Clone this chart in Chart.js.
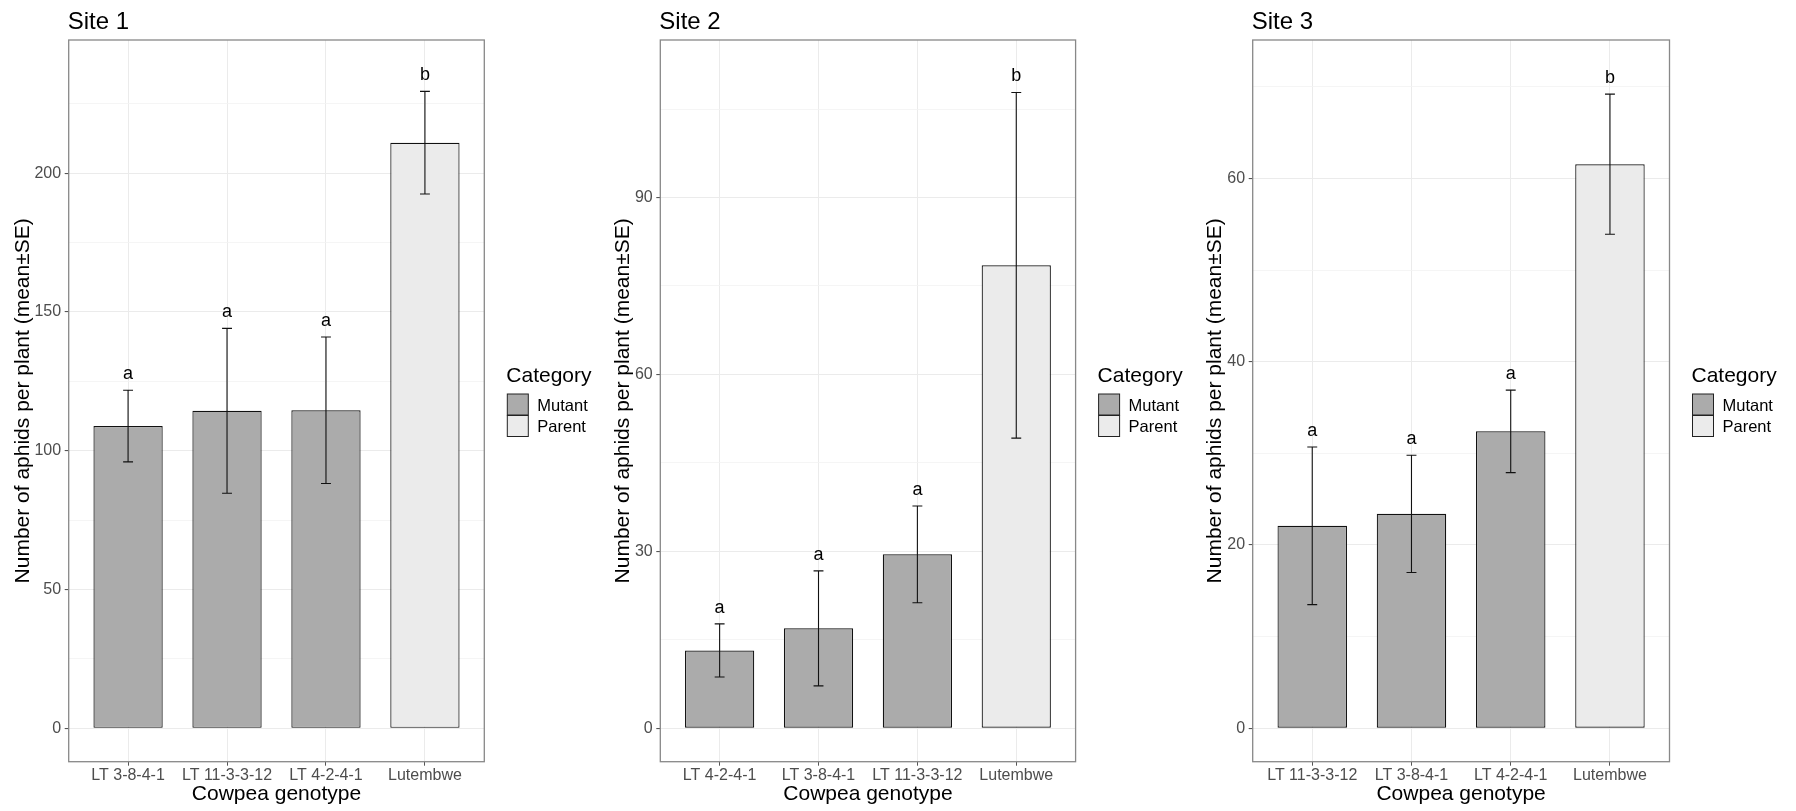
<!DOCTYPE html>
<html>
<head>
<meta charset="utf-8">
<title>Aphids per plant by cowpea genotype</title>
<script src="https://cdn.jsdelivr.net/npm/chart.js@4.4.0/dist/chart.umd.min.js"></script>
<style>
  body { margin: 0; background: #fff; }
  #wrap { position: relative; width: 1796px; height: 811px; }
  canvas { position: absolute; top: 0; }
</style>
</head>
<body>
<div id="wrap">
  <canvas id="site1" width="599" height="811" style="left:0px"></canvas>
  <canvas id="site2" width="599" height="811" style="left:599px"></canvas>
  <canvas id="site3" width="598" height="811" style="left:1198px"></canvas>
</div>
<script>
// --- data ---
const site1Genotypes = ["LT 3-8-4-1", "LT 11-3-3-12", "LT 4-2-4-1", "Lutembwe"];
const site1Means = [108.9, 114.4, 114.6, 211.0];
const site1SE = [12.9, 29.7, 26.4, 18.5];
const site1Letters = ["a", "a", "a", "b"];
const site1Ticks = [0, 50, 100, 150, 200];
const site1Minor = [25, 75, 125, 175, 225];

const site2Genotypes = ["LT 4-2-4-1", "LT 3-8-4-1", "LT 11-3-3-12", "Lutembwe"];
const site2Means = [13.2, 16.95, 29.5, 78.5];
const site2SE = [4.5, 9.75, 8.2, 29.3];
const site2Letters = ["a", "a", "a", "b"];
const site2Ticks = [0, 30, 60, 90];
const site2Minor = [15, 45, 75, 105];

const site3Genotypes = ["LT 11-3-3-12", "LT 3-8-4-1", "LT 4-2-4-1", "Lutembwe"];
const site3Means = [22.1, 23.4, 32.4, 61.55];
const site3SE = [8.6, 6.4, 4.5, 7.65];
const site3Letters = ["a", "a", "a", "b"];
const site3Ticks = [0, 20, 40, 60];
const site3Minor = [10, 30, 50, 70];

const categories = ["Mutant", "Mutant", "Mutant", "Parent"];
const legendLabels = ["Mutant", "Parent"];
const categoryColors = { Mutant: "#ABABAB", Parent: "#EBEBEB" };

const FONT = "'Liberation Sans', Arial, Helvetica, sans-serif";
Chart.defaults.font.family = FONT;
const CAP = 0.05; // half width of the error bar caps, in category units

// error bars, letters, panel frame, title and legend
const extrasPlugin = {
  id: "siteExtras",
  afterDatasetsDraw(chart, args, opts) {
    const ctx = chart.ctx;
    const xs = chart.scales.x;
    const ys = chart.scales.y;
    const area = chart.chartArea;
    ctx.save();

    ctx.strokeStyle = "#111";
    ctx.lineWidth = 1.1;
    ctx.fillStyle = "#000";
    ctx.font = "18px " + FONT;
    ctx.textAlign = "center";
    ctx.textBaseline = "alphabetic";
    opts.means.forEach((m, i) => {
      const cx = xs.getPixelForValue(i + 1);
      const x0 = xs.getPixelForValue(i + 1 - CAP);
      const x1 = xs.getPixelForValue(i + 1 + CAP);
      const top = ys.getPixelForValue(m + opts.se[i]);
      const bot = ys.getPixelForValue(m - opts.se[i]);
      ctx.beginPath();
      ctx.moveTo(cx, top); ctx.lineTo(cx, bot);
      ctx.moveTo(x0, top); ctx.lineTo(x1, top);
      ctx.moveTo(x0, bot); ctx.lineTo(x1, bot);
      ctx.stroke();
      ctx.fillText(opts.letters[i], cx, top - 11);
    });

    // panel border
    ctx.strokeStyle = "#888";
    ctx.lineWidth = 1.3;
    ctx.strokeRect(area.left, area.top, area.right - area.left, area.bottom - area.top);

    // title
    ctx.textAlign = "left";
    ctx.font = "24px " + FONT;
    ctx.fillText(opts.title, area.left - 1, 29);

    // legend
    const lx = area.right + 22;
    ctx.font = "21px " + FONT;
    ctx.fillText("Category", lx, 381.5);
    ctx.font = "16.5px " + FONT;
    ctx.textBaseline = "middle";
    legendLabels.forEach((lab, i) => {
      const ky = 394 + i * 21.5;
      ctx.fillStyle = categoryColors[lab];
      ctx.fillRect(lx + 1, ky, 21, 21);
      ctx.strokeStyle = "#222";
      ctx.lineWidth = 1;
      ctx.strokeRect(lx + 1, ky, 21, 21);
      ctx.fillStyle = "#000";
      ctx.fillText(lab, lx + 31, ky + 12);
    });
    ctx.restore();
  }
};

function makeSite(id, title, genotypes, means, se, letters, ticks, minor, yMin, yMax, plotLeft, plotRight, yTitlePad) {
  const canvas = document.getElementById(id);
  const W = canvas.width;
  const allTicks = ticks.concat(minor).sort((a, b) => a - b);

  new Chart(canvas, {
    type: "bar",
    data: {
      datasets: [{
        data: means.map((m, i) => ({ x: i + 1, y: m })),
        backgroundColor: categories.map((c) => categoryColors[c]),
        borderColor: "#111",
        borderWidth: 1.2,
        borderSkipped: false,
        barPercentage: 0.7,
        categoryPercentage: 1,
      }],
    },
    options: {
      responsive: false,
      animation: false,
      layout: { padding: { top: 40, right: W - plotRight, bottom: 0, left: 0 } },
      plugins: {
        legend: { display: false },
        tooltip: { enabled: false },
        siteExtras: { title, means, se, letters },
      },
      scales: {
        x: {
          type: "linear",
          min: 0.4,
          max: 4.6,
          offset: false,
          afterBuildTicks: (scale) => { scale.ticks = genotypes.map((g, i) => ({ value: i + 1 })); },
          afterFit: (scale) => { scale.height = 49.3; },
          ticks: {
            autoSkip: false,
            maxRotation: 0,
            padding: 0,
            color: "#4D4D4D",
            font: { size: 16 },
            callback: (v) => genotypes[v - 1],
          },
          grid: { color: "#EBEBEB", lineWidth: 1, tickColor: "#555", tickLength: 4, offset: false },
          border: { display: false },
          title: {
            display: true,
            text: "Cowpea genotype",
            color: "#000",
            font: { size: 21 },
            padding: { top: 0, bottom: 4 },
          },
        },
        y: {
          type: "linear",
          min: yMin,
          max: yMax,
          afterBuildTicks: (scale) => { scale.ticks = allTicks.map((v) => ({ value: v })); },
          afterFit: (scale) => { scale.width = plotLeft; },
          ticks: {
            padding: 3.6,
            color: "#4D4D4D",
            font: { size: 16 },
            callback: (v) => (ticks.includes(v) ? v : ""),
          },
          grid: {
            color: (c) => (ticks.includes(c.tick.value) ? "#EBEBEB" : "#F3F3F3"),
            lineWidth: (c) => (ticks.includes(c.tick.value) ? 1.1 : 0.8),
            tickColor: (c) => (ticks.includes(c.tick.value) ? "#555" : "rgba(0,0,0,0)"),
            tickLength: 4,
          },
          border: { display: false },
          title: {
            display: true,
            text: "Number of aphids per plant (mean±SE)",
            color: "#000",
            font: { size: 21 },
            padding: { top: yTitlePad, bottom: 0 },
          },
        },
      },
    },
    plugins: [extrasPlugin],
  });
}

makeSite("site1", "Site 1", site1Genotypes, site1Means, site1SE, site1Letters, site1Ticks, site1Minor,
  -12, 248, 68.7, 484.3, 10.6);
makeSite("site2", "Site 2", site2Genotypes, site2Means, site2SE, site2Letters, site2Ticks, site2Minor,
  -5.66, 116.7, 61.3, 476.6, 11.6);
makeSite("site3", "Site 3", site3Genotypes, site3Means, site3SE, site3Letters, site3Ticks, site3Minor,
  -3.64, 75.1, 54.7, 471.5, 5);
</script>
</body>
</html>
